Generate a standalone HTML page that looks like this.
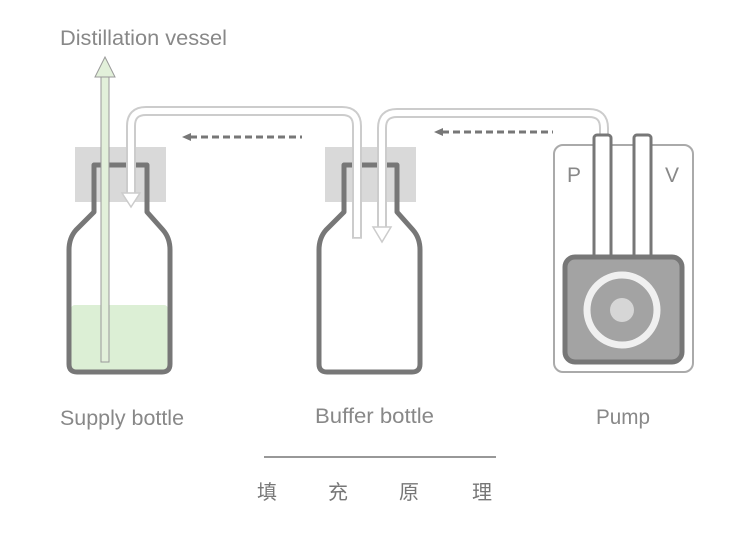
<!DOCTYPE html>
<html><head><meta charset="utf-8"><style>html,body{margin:0;padding:0;background:#fff;}svg{display:block}</style></head>
<body>
<svg width="755" height="536" viewBox="0 0 755 536" xmlns="http://www.w3.org/2000/svg" font-family="'Liberation Sans','Noto Sans CJK SC',sans-serif">
<rect x="75" y="147" width="91" height="55" fill="#d9d9d9"/>
<rect x="325" y="147" width="91" height="55" fill="#d9d9d9"/>
<rect x="71" y="305" width="97" height="66" rx="4" fill="#dcefd5"/>
<path d="M94 165 H147 V212 L163 230 Q170 238 170 250 V364 Q170 372 162 372 H77 Q69 372 69 364 V250 Q69 238 76 230 L94 212 Z" fill="none" stroke="#777" stroke-width="5" stroke-linejoin="round"/>
<path d="M344 165 H397 V212 L413 230 Q420 238 420 250 V364 Q420 372 412 372 H327 Q319 372 319 364 V250 Q319 238 326 230 L344 212 Z" fill="none" stroke="#777" stroke-width="5" stroke-linejoin="round"/>
<path d="M357 238 V126 Q357 111 342 111 H146 Q131 111 131 126 V194" fill="none" stroke="#ccc" stroke-width="10"/>
<path d="M357 237 V126 Q357 111 342 111 H146 Q131 111 131 126 V194" fill="none" stroke="#fff" stroke-width="6"/>
<line x1="352" y1="238" x2="362" y2="238" stroke="#ccc" stroke-width="1.5"/>
<path d="M122 193 H140 L131 207 Z" fill="#fff" stroke="#ccc" stroke-width="1.5"/>
<path d="M604 140 V128 Q604 113 589 113 H397 Q382 113 382 128 V228" fill="none" stroke="#ccc" stroke-width="10"/>
<path d="M604 140 V128 Q604 113 589 113 H397 Q382 113 382 128 V228" fill="none" stroke="#fff" stroke-width="6"/>
<path d="M373 227 H391 L382 242 Z" fill="#fff" stroke="#ccc" stroke-width="1.5"/>
<rect x="101" y="76" width="8" height="286" fill="#e2f0da" stroke="#999" stroke-width="1"/>
<path d="M95 77 H115 L105 57 Z" fill="#e2f0da" stroke="#999" stroke-width="1"/>
<line x1="190" y1="137" x2="302" y2="137" stroke="#777" stroke-width="3" stroke-dasharray="7,4"/>
<path d="M182 137 L191 133 V141 Z" fill="#777"/>
<line x1="442" y1="132" x2="553" y2="132" stroke="#777" stroke-width="3" stroke-dasharray="7,4"/>
<path d="M434 132 L443 128 V136 Z" fill="#777"/>
<rect x="554" y="145" width="139" height="227" rx="9" fill="#fff" stroke="#aaa" stroke-width="2"/>
<rect x="594" y="135" width="17" height="125" rx="3" fill="#fff" stroke="#777" stroke-width="3"/>
<rect x="634" y="135" width="17" height="125" rx="3" fill="#fff" stroke="#777" stroke-width="3"/>
<rect x="565" y="257" width="117" height="105" rx="10" fill="#a3a3a3" stroke="#777" stroke-width="5"/>
<circle cx="622" cy="310" r="35" fill="none" stroke="#f0f0f0" stroke-width="7"/>
<circle cx="622" cy="310" r="12" fill="#d6d6d6"/>
<text x="567" y="182" font-size="21" fill="#888">P</text>
<text x="665" y="182" font-size="21" fill="#888">V</text>
<g fill="#888" font-size="21">
<text x="60" y="45" textLength="167" lengthAdjust="spacingAndGlyphs">Distillation vessel</text>
<text x="60" y="425" textLength="124" lengthAdjust="spacingAndGlyphs">Supply bottle</text>
<text x="315" y="423" textLength="119" lengthAdjust="spacingAndGlyphs">Buffer bottle</text>
<text x="596" y="424" textLength="54" lengthAdjust="spacingAndGlyphs">Pump</text>
</g>
<line x1="264" y1="457" x2="496" y2="457" stroke="#777" stroke-width="1.5"/>
<g fill="#777" font-size="20">
<text x="257" y="499">填</text>
<text x="328" y="499">充</text>
<text x="399" y="499">原</text>
<text x="472" y="499">理</text>
</g>
</svg>
</body></html>
